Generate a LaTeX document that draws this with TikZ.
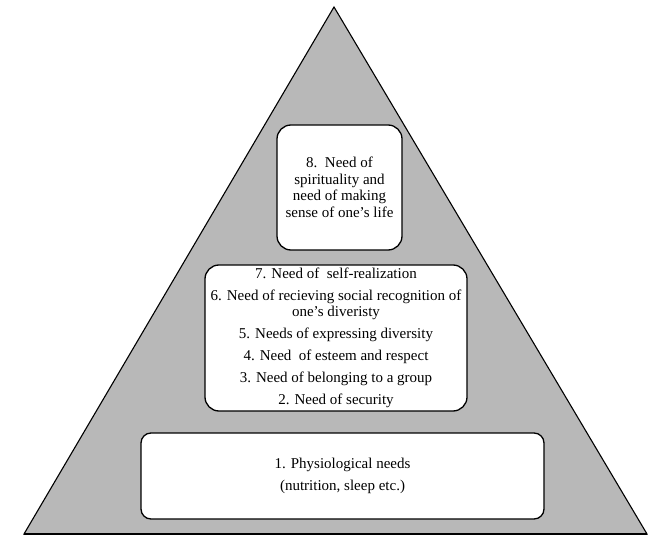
\documentclass[tikz,border=0pt]{standalone}
\usepackage{fontspec}
\setmainfont{Liberation Serif}
\begin{document}
\begin{tikzpicture}[x=1pt,y=-1pt,
  pyr/.style={draw=black, line width=1.1pt, fill=black!28, line join=miter},
  needbox/.style={draw=black, line width=1.3pt, fill=white, rounded corners=14pt, inner sep=0pt, align=center, font=\fontsize{15}{15.5}\selectfont},
  baseline/.style={draw=black, line width=1.8pt}]
\useasboundingbox (0,0) rectangle (651,537);
\coordinate (apex) at (334,7);
\coordinate (bl) at (24,534);
\coordinate (br) at (647,534);
\draw[pyr] (apex) -- (br) -- (bl) -- cycle;
\draw[baseline] (bl) -- (br);
\node[needbox, minimum width=125pt, minimum height=125pt, font=\fontsize{15}{16.5}\selectfont] (n8) at (339.5,187.5)
  {8.\ \ Need of\\spirituality and\\need of making\\sense of one's life};
\node[needbox, minimum width=262pt, minimum height=146pt] (n27) at (336,338)
  {7. Need of\ \ self-realization\\[6.5pt]
   6. Need of recieving social recognition of\\one's diveristy\\[6.5pt]
   5. Needs of expressing diversity\\[6.5pt]
   4. Need\ \ of esteem and respect\\[6.5pt]
   3. Need of belonging to a group\\[6.5pt]
   2. Need of security};
\node[needbox, rounded corners=10pt, minimum width=403pt, minimum height=86pt] (n1) at (342.5,476)
  {1. Physiological needs\\[7pt](nutrition, sleep etc.)};
\end{tikzpicture}
\end{document}
